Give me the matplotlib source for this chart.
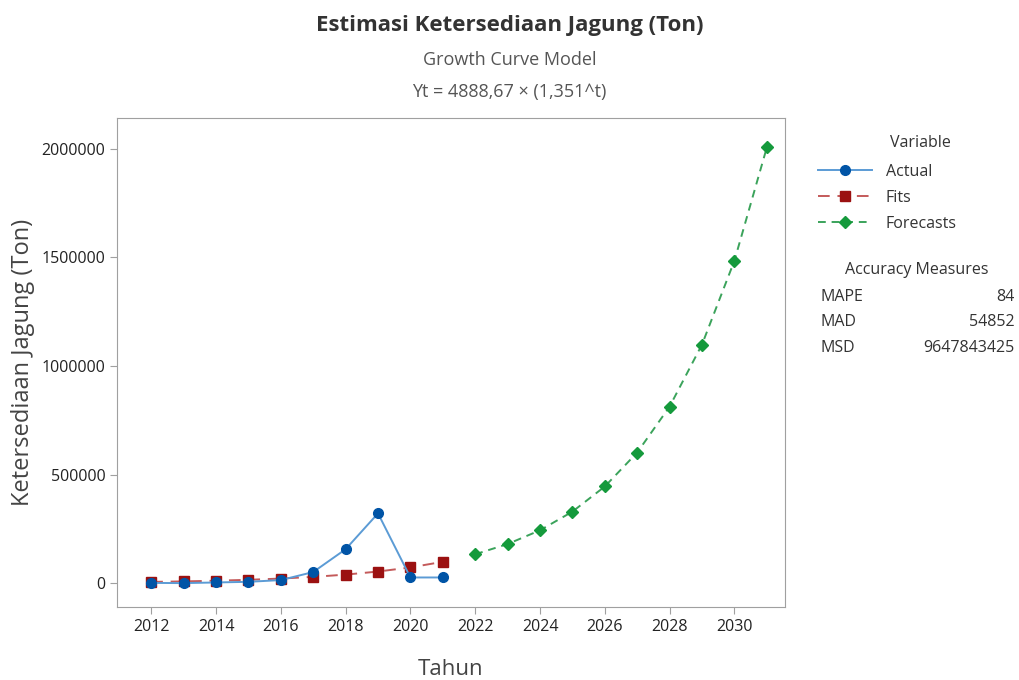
import matplotlib.pyplot as plt
from matplotlib.ticker import FixedLocator

plt.rcParams['font.family'] = ['Open Sans', 'DejaVu Sans']

# data
tahun_actual = [2012, 2013, 2014, 2015, 2016, 2017, 2018, 2019, 2020, 2021]
actual = [2000, 1000, 4000, 7000, 15000, 52000, 157000, 322000, 27000, 27000]
fits = [6604, 8922, 12054, 16284, 22000, 29722, 40154, 54248, 73289, 99013]
tahun_fc = [2022, 2023, 2024, 2025, 2026, 2027, 2028, 2029, 2030, 2031]
forecasts = [133767, 180719, 244152, 329850, 445628, 602043, 813360,
             1098849, 1484545, 2005620]

acc_names = ["MAPE", "MAD", "MSD"]
acc_vals = ["84", "54852", "9647843425"]

fig = plt.figure(figsize=(10.19, 6.8), dpi=100)
ax = fig.add_axes([0.115, 0.107, 0.655, 0.72])

ax.plot(tahun_actual, actual, color="#5b9bd5", lw=1.4, marker="o", ms=7,
        mfc="#0054a6", mec="#0054a6", label="Actual", zorder=3)
ax.plot(tahun_actual, fits, color="#c45a5a", lw=1.4, ls=(0, (6, 4)), marker="s",
        ms=7, mfc="#9b1111", mec="#9b1111", label="Fits", zorder=2)
ax.plot(tahun_fc, forecasts, color="#3ba35b", lw=1.4, ls=(0, (4, 3)), marker="D",
        ms=6, mfc="#159a3c", mec="#159a3c", label="Forecasts", zorder=3)

ax.set_xlim(2010.95, 2031.55)
ax.set_ylim(-110000, 2143000)
ax.xaxis.set_major_locator(FixedLocator(range(2012, 2031, 2)))
ax.yaxis.set_major_locator(FixedLocator([0, 500000, 1000000, 1500000, 2000000]))
ax.ticklabel_format(axis="y", style="plain")
for s in ax.spines.values():
    s.set_color("#a0a0a0")
ax.tick_params(colors="#a0a0a0", labelcolor="#222222", labelsize=11.5, length=5)

ax.set_xlabel("Tahun", fontsize=16, color="#444444", labelpad=17)
ax.set_ylabel("Ketersediaan Jagung (Ton)", fontsize=17, color="#444444", labelpad=5)

fig.text(0.5, 0.955, "Estimasi Ketersediaan Jagung (Ton)", ha="center",
         fontsize=16, fontweight="bold", color="#333333")
fig.text(0.5, 0.905, "Growth Curve Model", ha="center", fontsize=13, color="#555555")
fig.text(0.5, 0.858, "Yt = 4888,67 \u00d7 (1,351^t)", ha="center", fontsize=13,
         color="#555555")

leg = ax.legend(loc="upper left", bbox_to_anchor=(1.0285, 0.935), frameon=False,
                fontsize=11.5, handlelength=3.4, handletextpad=0.85,
                labelspacing=0.62)
for t in leg.get_texts():
    t.set_color("#333333")
fig.text(0.903, 1 - 143 / 680, "Variable", ha="center", va="center",
         fontsize=11.5, color="#333333")

fig.text(0.9, 0.597, "Accuracy Measures", ha="center", fontsize=11.5, color="#333333")
for i, (n, v) in enumerate(zip(acc_names, acc_vals)):
    y = 0.558 - i * 0.038
    fig.text(0.805, y, n, ha="left", fontsize=11.5, color="#333333")
    fig.text(0.996, y, v, ha="right", fontsize=11.5, color="#333333")

plt.savefig("out.png", dpi=100)
